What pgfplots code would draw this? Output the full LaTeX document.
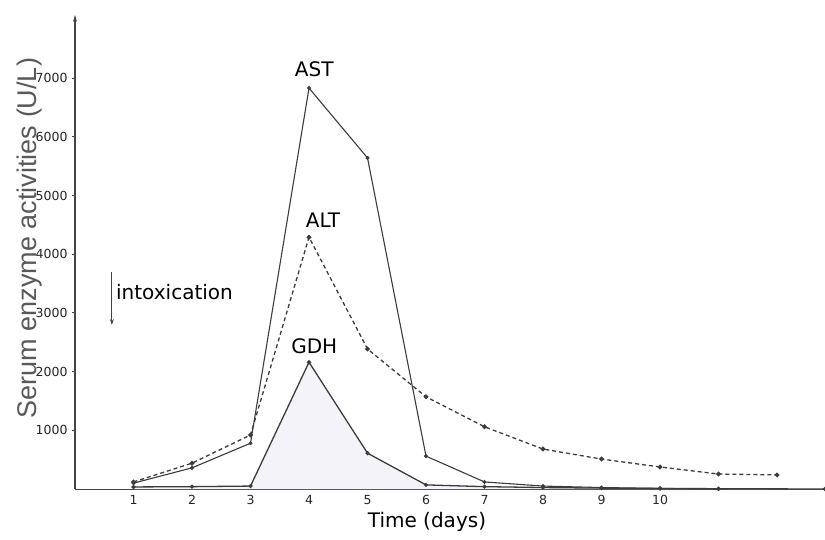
\documentclass[border=0pt]{standalone}
\usepackage{pgfplots}
\pgfplotsset{compat=1.18}
\usepackage{fontspec}
\setmainfont{DejaVu Sans}
\newfontfamily\arialfont{Liberation Sans}
\usetikzlibrary{arrows.meta}
\definecolor{axgray}{HTML}{444444}
\definecolor{linegray}{HTML}{3C3C3C}
\definecolor{gdhfill}{HTML}{F3F3F9}
\begin{document}
\begin{tikzpicture}
\path[use as bounding box] (-75pt,-50pt) rectangle (750pt,489pt);
\begin{axis}[at={(0pt,0pt)}, anchor=south west, scale only axis,
  width=750pt, height=474pt,
  xmin=0, xmax=12.82, ymin=0, ymax=8075,
  axis x line=bottom, axis y line=left,
  x axis line style={-, color=axgray, line width=1pt},
  y axis line style={-{Stealth[length=7pt,width=4pt]}, color=axgray, line width=1pt},
  xtick={1,...,10}, ytick={1000,2000,...,7000},
  /pgf/number format/assume math mode=true,
  /pgf/number format/1000 sep={},
  tick label style={font=\fontsize{12.5}{14}\selectfont, text=black!85},
  yticklabel style={anchor=east, xshift=-1pt},
  xtick style={draw=none},
  ytick style={color=axgray, line width=0.8pt},
  major tick length=3pt, tick align=outside,
  clip=false]
% GDH area
\addplot[draw=none, fill=gdhfill] coordinates {
 (1,35) (2,40) (3,50) (4,2160) (5,610) (6,70) (7,40) (8,25) (9,15) (10,10) (11,5) (12.82,0)} \closedcycle;
% AST
\addplot[color=linegray, line width=1.1pt, mark=*, mark size=1.4pt] coordinates {
 (1,100) (2,360) (3,780) (4,6830) (5,5640) (6,560) (7,120) (8,50) (9,25) (10,10) (11,0)};
% ALT
\addplot[color=linegray, line width=1.3pt, dash pattern=on 4pt off 3pt, mark=*, mark size=1.7pt, mark options={solid}] coordinates {
 (1,120) (2,440) (3,920) (4,4290) (5,2385) (6,1570) (7,1060) (8,680) (9,510) (10,375) (11,255) (12,240)};
% GDH
\addplot[color=linegray, line width=1.3pt, mark=*, mark size=1.4pt] coordinates {
 (1,35) (2,40) (3,50) (4,2160) (5,610) (6,70) (7,40) (8,25) (9,15) (10,10) (11,5) (12.82,0)};
\node[font=\fontsize{20}{24}\selectfont] at (axis cs:4.09,7155) {AST};
\node[font=\fontsize{20}{24}\selectfont] at (axis cs:4.24,4583) {ALT};
\node[font=\fontsize{20}{24}\selectfont] at (axis cs:4.09,2436) {GDH};
\node[font=\fontsize{20}{24}\selectfont, anchor=west, inner sep=0pt] at (axis cs:0.70,3356) {intoxication};
\draw[-{Stealth[length=6pt,width=4pt]}, color=axgray, line width=1pt] (axis cs:0.63,3697) -- (axis cs:0.63,2794);
\end{axis}
\node[rotate=90, anchor=base, inner sep=0pt, font=\arialfont\fontsize{27}{30}\selectfont, text=black!65] at (-38pt,251pt) {Serum enzyme activities (U/L)};
\node[font=\fontsize{20}{24}\selectfont] at (352pt,-33pt) {Time (days)};
\end{tikzpicture}
\end{document}
